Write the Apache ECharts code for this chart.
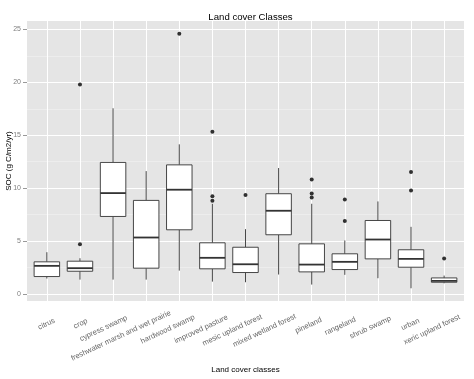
<!DOCTYPE html>
<html>
<head>
<meta charset="utf-8">
<script src="https://cdn.jsdelivr.net/npm/echarts@6/dist/echarts.min.js"></script>
<style>
html,body{margin:0;padding:0;background:#fff;}
#chart{width:474px;height:379px;}
</style>
</head>
<body>
<div id="chart"></div>
<script>
const categories = ['citrus','crop','cypress swamp','freshwater marsh and wet prairie','hardwood swamp','improved pasture','mesic upland forest','mixed wetland forest','pineland','rangeland','shrub swamp','urban','xeric upland forest'];
const lows    = [1.45, 1.35, 1.35, 1.35, 2.2, 1.16, 1.1, 1.83, 0.88, 1.8, 1.48, 0.53, 1.0];
const q1s     = [1.64, 2.14, 7.32, 2.43, 6.06, 2.37, 2.02, 5.59, 2.08, 2.3, 3.31, 2.52, 1.1];
const medians = [2.65, 2.43, 9.53, 5.33, 9.85, 3.41, 2.8, 7.86, 2.77, 3.03, 5.14, 3.31, 1.23];
const q3s     = [3.03, 3.09, 12.43, 8.84, 12.2, 4.83, 4.41, 9.47, 4.73, 3.79, 6.94, 4.17, 1.51];
const highs   = [3.94, 3.37, 17.55, 11.61, 14.14, 8.52, 6.12, 11.9, 8.52, 5.05, 8.74, 6.34, 1.73];
const outlierCategories = ['crop','crop','hardwood swamp','improved pasture','improved pasture','improved pasture','mesic upland forest','pineland','pineland','pineland','rangeland','rangeland','urban','urban','xeric upland forest'];
const outlierValues     = [4.7, 19.8, 24.6, 15.34, 9.24, 8.8, 9.34, 10.82, 9.5, 9.12, 8.93, 6.88, 11.52, 9.78, 3.34];
const yTicks = [0, 5, 10, 15, 20, 25];
const yMinorTicks = [2.5, 7.5, 12.5, 17.5, 22.5];
const title = 'Land cover Classes';
const xTitle = 'Land cover classes';
const yTitle = 'SOC (g C/m2/yr)';

const xPos = categories.map((c, i) => i + 1);
const boxData = categories.map((c, i) => [i + 1, lows[i], q1s[i], medians[i], q3s[i], highs[i]]);
const outlierData = outlierCategories.map((c, i) => [categories.indexOf(c) + 1, outlierValues[i]]);

const allVals = lows.concat(highs, outlierValues);
const dMin = Math.min(...allVals), dMax = Math.max(...allVals);
const pad = 0.05 * (dMax - dMin);

const FONT = 'Liberation Sans, Arial, sans-serif';
const XFS = 7.5;
const chart = echarts.init(document.getElementById('chart'), null, {renderer: 'canvas'});

// per-label shift so rotated labels sit like ggplot's (anchored partway along the text)
const mctx = document.createElement('canvas').getContext('2d');
mctx.font = XFS + 'px "Liberation Sans"';
const rich = {};
categories.forEach((c, i) => {
  const L = mctx.measureText(c).width;
  rich['l' + i] = {padding: [0, -(5 + 0.2 * L), 0, 0], fontFamily: FONT, fontSize: XFS, color: '#666666'};
});

function renderBox(params, api) {
  const x = api.value(0);
  const lo = api.coord([x, api.value(1)]);
  const q1 = api.coord([x, api.value(2)]);
  const md = api.coord([x, api.value(3)]);
  const q3 = api.coord([x, api.value(4)]);
  const hi = api.coord([x, api.value(5)]);
  const w = api.size([0.77, 0])[0];
  const cx = lo[0];
  const stroke = {stroke: '#333333', lineWidth: 0.9};
  return {
    type: 'group',
    children: [
      {type: 'line', shape: {x1: cx, y1: hi[1], x2: cx, y2: q3[1]}, style: stroke},
      {type: 'line', shape: {x1: cx, y1: q1[1], x2: cx, y2: lo[1]}, style: stroke},
      {type: 'rect', shape: {x: cx - w / 2, y: q3[1], width: w, height: q1[1] - q3[1]},
        style: {fill: '#ffffff', stroke: '#333333', lineWidth: 0.9}},
      {type: 'line', shape: {x1: cx - w / 2, y1: md[1], x2: cx + w / 2, y2: md[1]},
        style: {stroke: '#333333', lineWidth: 1.8}}
    ]
  };
}

function gridSeries(data, color, width) {
  return {
    type: 'scatter', data: [], z: 1, silent: true,
    markLine: {
      z: 1, silent: true, symbol: 'none', animation: false,
      label: {show: false},
      lineStyle: {color: color, width: width, type: 'solid'},
      emphasis: {disabled: true},
      data: data
    }
  };
}

chart.setOption({
  animation: false,
  backgroundColor: '#ffffff',
  title: {
    text: title, left: 245.5, top: 7, textAlign: 'center',
    textStyle: {fontFamily: FONT, fontSize: 9.6, fontWeight: 'normal', color: '#000'}
  },
  grid: {left: 27, right: 10, top: 21, bottom: 78, show: true, backgroundColor: '#E5E5E5', borderWidth: 0,
    containLabel: false, outerBoundsMode: 'none'},
  xAxis: {
    type: 'value', min: 0.4, max: categories.length + 0.6,
    name: xTitle, nameLocation: 'middle', nameGap: 65, nameMoveOverlap: false,
    nameTextStyle: {fontFamily: FONT, fontSize: 8, color: '#000'},
    axisLine: {show: false},
    splitLine: {show: false},
    axisTick: {show: true, length: 4, customValues: xPos, lineStyle: {color: '#7F7F7F', width: 0.8}},
    axisLabel: {
      show: true, customValues: xPos, rotate: 25, margin: 23,
      formatter: v => { const i = Math.round(v) - 1; return categories[i] ? '{l' + i + '|' + categories[i] + '}' : ''; },
      fontFamily: FONT, fontSize: XFS, color: '#666666',
      rich: rich
    }
  },
  yAxis: {
    type: 'value', min: dMin - pad, max: dMax + pad,
    name: yTitle, nameLocation: 'middle', nameGap: 14, nameRotate: 90, nameMoveOverlap: false,
    nameTextStyle: {fontFamily: FONT, fontSize: 8, color: '#000'},
    axisLine: {show: false},
    splitLine: {show: false},
    axisTick: {show: true, length: 4, customValues: yTicks, lineStyle: {color: '#7F7F7F', width: 0.8}},
    axisLabel: {show: true, customValues: yTicks, margin: 6, fontFamily: FONT, fontSize: 7, color: '#7F7F7F'}
  },
  series: [
    gridSeries(yMinorTicks.map(v => ({yAxis: v})), '#F2F2F2', 0.6),
    gridSeries(yTicks.map(v => ({yAxis: v})), '#FFFFFF', 1),
    gridSeries(xPos.map(v => ({xAxis: v})), '#FFFFFF', 1),
    {
      type: 'custom', z: 3, renderItem: renderBox, data: boxData,
      encode: {x: 0, y: [1, 2, 3, 4, 5]}, silent: true
    },
    {
      type: 'scatter', z: 4, data: outlierData, symbol: 'circle', symbolSize: 4,
      itemStyle: {color: '#000000'}, silent: true
    }
  ]
});
</script>
</body>
</html>
